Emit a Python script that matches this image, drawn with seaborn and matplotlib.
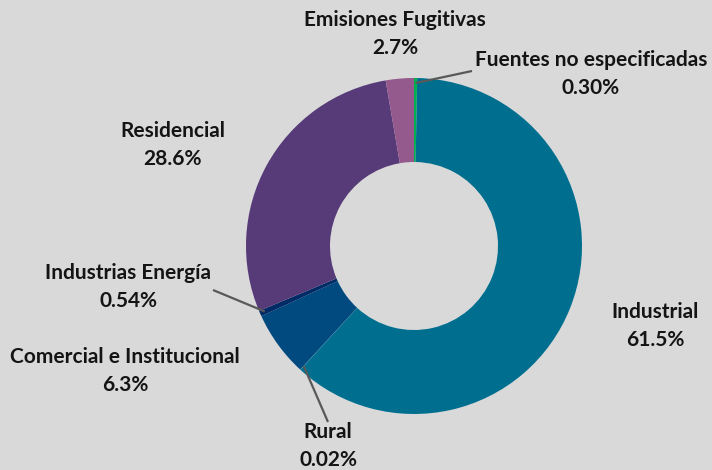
import numpy as np
import matplotlib
matplotlib.use("Agg")
import matplotlib.pyplot as plt
import seaborn as sns

# ---- data ----
categories = ["Fuentes no especificadas", "Industrial", "Rural",
              "Comercial e Institucional", "Industrias Energía",
              "Residencial", "Emisiones Fugitivas"]
values = [0.30, 61.5, 0.02, 6.3, 0.54, 28.6, 2.7]
colors = ["#00B050", "#006F8F", "#4BACC6", "#004A80", "#002B66",
          "#573A78", "#955A8D"]

# ---- style ----
sns.set_style("white")
plt.rcParams["font.family"] = ["Lato", "DejaVu Sans"]
BG = "#D9D9D9"

W, H = 712, 470
fig = plt.figure(figsize=(W / 100, H / 100), dpi=100, facecolor=BG)
ax = fig.add_axes([0, 0, 1, 1])
ax.set_facecolor(BG)

CX, CY, R = 414, 246, 168  # pixel centre / radius


def to_data(px, py):
    return (px - CX) / R, (CY - py) / R


wedges, _ = ax.pie(values, colors=colors, startangle=90, counterclock=False,
                   wedgeprops=dict(width=0.5, linewidth=0))

ax.set_xlim(-CX / R, (W - CX) / R)
ax.set_ylim(-(H - CY) / R, CY / R)
ax.set_aspect("auto")
ax.axis("off")


def pct(v):
    return f"{v:.2f}%" if v < 1 else f"{v:.1f}%"


# label centre positions (pixels) – layout only
label_pos = {
    "Fuentes no especificadas": (591, 74),
    "Industrial": (655, 326),
    "Rural": (328, 446),
    "Comercial e Institucional": (125, 371),
    "Industrias Energía": (128, 287),
    "Residencial": (173, 145),
    "Emisiones Fugitivas": (395, 34),
}
leader_end = {
    "Fuentes no especificadas": (472, 71),
    "Rural": (328, 422),
    "Industrias Energía": (213, 290),
}

for w, cat, v in zip(wedges, categories, values):
    lx, ly = to_data(*label_pos[cat])
    ax.text(lx, ly, f"{cat}\n{pct(v)}", ha="center", va="center",
            fontsize=15, fontweight="bold", color="#141414",
            linespacing=1.45)
    if cat in leader_end:
        ang = np.deg2rad((w.theta1 + w.theta2) / 2)
        sx, sy = 0.97 * np.cos(ang), 0.97 * np.sin(ang)
        ex, ey = to_data(*leader_end[cat])
        ax.plot([sx, ex], [sy, ey], color="#595959", lw=1.6,
                solid_capstyle="butt")

fig.savefig("out.png", dpi=100, facecolor=BG)
